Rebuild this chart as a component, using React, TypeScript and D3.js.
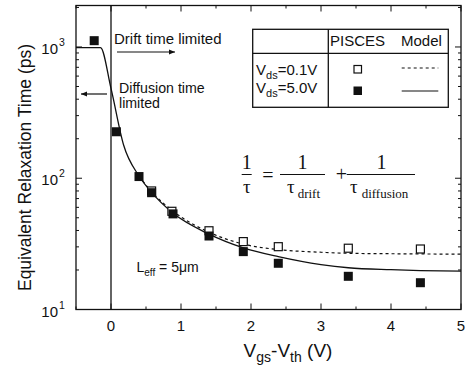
import React from "react";
import * as d3 from "d3";

const W = 470;
const H = 371;

// PISCES simulation points
const filledX = [-0.24, 0.077, 0.4, 0.58, 0.886, 1.4, 1.89, 2.39, 3.39, 4.42];
const filledY = [1117, 226, 103, 77.6, 53.5, 36.3, 27.6, 22.5, 17.9, 16.0];
const openX = [0.58, 0.87, 1.4, 1.89, 2.39, 3.39, 4.42];
const openY = [80, 56, 39.8, 32.9, 30.1, 29.3, 28.9];

// Model curves
const solidX = [-0.5, -0.15, 0.0, 0.18, 0.4, 0.58, 0.88, 1.4, 1.89, 2.39, 3.0, 3.39, 4.0, 4.42, 5.0];
const solidY = [990, 990, 483, 179, 104, 78, 54.5, 37.5, 29.5, 25.3, 22, 20.8, 20.1, 19.8, 19.6];
const dashX = [0.4, 0.58, 0.88, 1.4, 1.89, 2.39, 3.0, 3.39, 4.0, 4.42, 5.0];
const dashY = [104, 79, 56.5, 38.8, 31.5, 28.6, 27.3, 26.8, 26.6, 26.5, 26.4];

const xMajor = [0, 1, 2, 3, 4, 5];
const xMinor = [-0.5, 0.5, 1.5, 2.5, 3.5, 4.5];
const yMajor = [10, 100, 1000];
const yExp = ["1", "2", "3"];

const L = 76, R = 461, T = 5.5, B = 309.5;

export default function App() {
  const x = d3.scaleLinear().domain([-0.5, 5]).range([L, R]);
  const y = d3.scaleLog().domain([10, 2070]).range([B, T]);

  const yMinor: number[] = [];
  [10, 100, 1000].forEach((d) => {
    for (let k = 2; k <= 9; k++) {
      const v = d * k;
      if (v < 2070) yMinor.push(v);
    }
  });

  const line = d3
    .line<[number, number]>()
    .x((d) => x(d[0]))
    .y((d) => y(d[1]))
    .curve(d3.curveMonotoneX);
  const solidPts: [number, number][] = solidX.map((v, i) => [v, solidY[i]]);
  const dashPts: [number, number][] = dashX.map((v, i) => [v, dashY[i]]);

  const sans = "Liberation Sans, Arial, sans-serif";
  const serif = "Liberation Serif, Times New Roman, serif";
  const sq = 9;

  return (
    <svg
      width={W}
      height={H}
      style={{ position: "absolute", left: 0, top: 0, background: "#fff" }}
      fontFamily={sans}
    >
      <defs>
        <marker id="ah" viewBox="0 0 10 10" refX="10" refY="5" markerWidth="7" markerHeight="6" orient="auto-start-reverse" markerUnits="userSpaceOnUse">
          <path d="M0,1 L10,5 L0,9 Z" fill="#111" />
        </marker>
      </defs>
      {/* frame */}
      <rect x={L} y={T} width={R - L} height={B - T} fill="none" stroke="#111" strokeWidth={1.3} />

      {/* x ticks bottom and top */}
      {xMajor.map((v) => (
        <g key={"xm" + v}>
          <line x1={x(v)} x2={x(v)} y1={B} y2={B - 6} stroke="#111" />
          <line x1={x(v)} x2={x(v)} y1={T} y2={T + 6} stroke="#111" />
          <text x={x(v)} y={B + 21} fontSize={15} textAnchor="middle" fill="#111">
            {v}
          </text>
        </g>
      ))}
      {xMinor.map((v) => (
        <g key={"xn" + v}>
          <line x1={x(v)} x2={x(v)} y1={B} y2={B - 3} stroke="#111" />
          <line x1={x(v)} x2={x(v)} y1={T} y2={T + 3} stroke="#111" />
        </g>
      ))}

      {/* y ticks left and right */}
      {yMajor.map((v, i) => (
        <g key={"ym" + v}>
          <line x1={L} x2={L + 6} y1={y(v)} y2={y(v)} stroke="#111" />
          <line x1={R} x2={R - 6} y1={y(v)} y2={y(v)} stroke="#111" />
          <text x={L - 18} y={y(v) + 7} fontSize={15} textAnchor="end" fill="#111">
            10
          </text>
          <text x={L - 17} y={y(v) - 1} fontSize={10.5} textAnchor="start" fill="#111">
            {yExp[i]}
          </text>
        </g>
      ))}
      {yMinor.map((v) => (
        <g key={"yn" + v}>
          <line x1={L} x2={L + 3} y1={y(v)} y2={y(v)} stroke="#111" />
          <line x1={R} x2={R - 3} y1={y(v)} y2={y(v)} stroke="#111" />
        </g>
      ))}

      {/* vertical line at 0 */}
      <line x1={x(0)} x2={x(0)} y1={T} y2={B} stroke="#111" strokeWidth={1.3} />

      {/* model curves */}
      <path d={line(dashPts) || ""} fill="none" stroke="#111" strokeWidth={1.2} strokeDasharray="3,3" />
      <path d={line(solidPts) || ""} fill="none" stroke="#111" strokeWidth={1.3} />

      {/* PISCES points */}
      {openX.map((v, i) => (
        <rect key={"o" + i} x={x(v) - 4} y={y(openY[i]) - 4} width={8} height={8} fill="#fff" stroke="#111" strokeWidth={1.2} />
      ))}
      {filledX.map((v, i) => (
        <rect key={"f" + i} x={x(v) - sq / 2} y={y(filledY[i]) - sq / 2} width={sq} height={sq} fill="#111" />
      ))}

      {/* annotations */}
      <text x={114} y={43.5} fontSize={15} fill="#111">Drift time limited</text>
      <line x1={117} x2={175} y1={52} y2={52} stroke="#111" strokeWidth={1.2} markerEnd="url(#ah)" />
      <text x={119} y={92.5} fontSize={14.2} fill="#111">Diffusion time</text>
      <text x={119} y={108} fontSize={14.2} fill="#111">limited</text>
      <line x1={107} x2={81} y1={94} y2={94} stroke="#111" strokeWidth={1.2} markerEnd="url(#ah)" />

      {/* legend */}
      <rect x={252.7} y={29.3} width={195.6} height={78} fill="#fff" stroke="#111" strokeWidth={1.3} />
      <line x1={252.7} x2={448.3} y1={53.3} y2={53.3} stroke="#111" strokeWidth={1.3} />
      <line x1={328.3} x2={328.3} y1={29.3} y2={107.3} stroke="#111" strokeWidth={1.3} />
      <text x={330} y={46} fontSize={15} fill="#111">PISCES</text>
      <text x={401} y={46} fontSize={15} fill="#111">Model</text>
      <text x={256} y={75} fontSize={15} fill="#111">
        V<tspan fontSize={11} dy={4}>ds</tspan>
        <tspan dy={-4}>=0.1V</tspan>
      </text>
      <text x={256} y={93} fontSize={15} fill="#111">
        V<tspan fontSize={11} dy={4}>ds</tspan>
        <tspan dy={-4}>=5.0V</tspan>
      </text>
      <rect x={354} y={65.5} width={7.5} height={7.5} fill="#fff" stroke="#111" strokeWidth={1.2} />
      <rect x={353.5} y={86.5} width={8.5} height={8.5} fill="#111" />
      <line x1={401.7} x2={438.3} y1={68} y2={68} stroke="#111" strokeWidth={1.2} strokeDasharray="3,3" />
      <line x1={401.7} x2={438.3} y1={91} y2={91} stroke="#111" strokeWidth={1.2} />

      {/* formula */}
      <g fontFamily={serif} fill="#111">
        <text x={246.7} y={169} fontSize={20} textAnchor="middle">1</text>
        <line x1={241.7} x2={251.7} y1={174.5} y2={174.5} stroke="#111" strokeWidth={1} />
        <text x={246.7} y={193} fontSize={19} textAnchor="middle">τ</text>
        <text x={268} y={182} fontSize={20} textAnchor="middle">=</text>
        <text x={302.5} y={169} fontSize={20} textAnchor="middle">1</text>
        <line x1={280} x2={325} y1={174.5} y2={174.5} stroke="#111" strokeWidth={1} />
        <text x={287} y={193} fontSize={19}>
          τ<tspan fontSize={13} dy={5} dx={3}>drift</tspan>
        </text>
        <text x={341.5} y={181} fontSize={20} textAnchor="middle">+</text>
        <text x={381.5} y={169} fontSize={20} textAnchor="middle">1</text>
        <line x1={346.7} x2={415} y1={174.5} y2={174.5} stroke="#111" strokeWidth={1} />
        <text x={350} y={193} fontSize={19}>
          τ<tspan fontSize={13} dy={5} dx={4}>diffusion</tspan>
        </text>
      </g>

      <text x={136.5} y={272} fontSize={14} fill="#111">
        L<tspan fontSize={10} dy={4}>eff</tspan>
        <tspan dy={-4}> = 5μm</tspan>
      </text>

      {/* axis labels */}
      <text
        transform={`translate(31,${167.5}) rotate(-90)`}
        fontSize={17.5}
        textAnchor="middle"
        fill="#111"
      >
        Equivalent Relaxation Time (ps)
      </text>
      <text x={288} y={357} fontSize={19} textAnchor="middle" fill="#111">
        V<tspan fontSize={14} dy={5}>gs</tspan>
        <tspan dy={-5}>-V</tspan>
        <tspan fontSize={14} dy={5}>th</tspan>
        <tspan dy={-5}> (V)</tspan>
      </text>
    </svg>
  );
}
